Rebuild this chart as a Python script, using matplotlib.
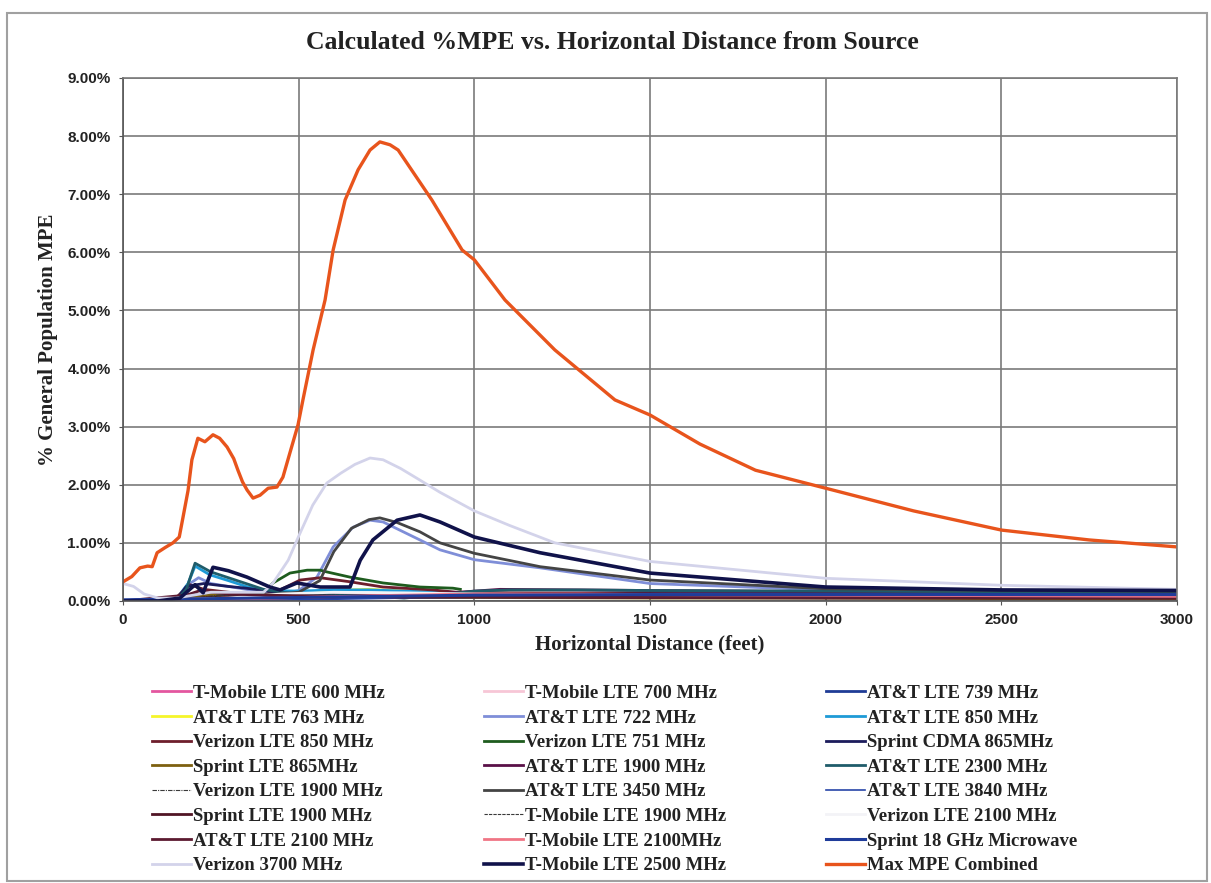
import matplotlib
matplotlib.use("Agg")
import matplotlib.pyplot as plt
from matplotlib.patches import Rectangle
from matplotlib.ticker import FuncFormatter, MultipleLocator

# ---------------------------------------------------------------------------
# Data (distance in feet, value in % of general population MPE)
# ---------------------------------------------------------------------------
tm600_x = [0, 200, 250, 300, 400, 500, 600, 800, 1000, 1500, 2000, 2500, 3000]
tm600_y = [0, 0.02, 0.05, 0.07, 0.08, 0.10, 0.11, 0.10, 0.09, 0.08, 0.07, 0.06, 0.06]

tm700_x = [0, 200, 250, 300, 400, 500, 600, 800, 1000, 1500, 2000, 2500, 3000]
tm700_y = [0, 0.03, 0.06, 0.08, 0.09, 0.11, 0.12, 0.11, 0.10, 0.09, 0.08, 0.07, 0.06]

att739_x = [0, 200, 400, 600, 800, 1000, 1500, 2000, 2500, 3000]
att739_y = [0.01, 0.02, 0.04, 0.07, 0.09, 0.10, 0.11, 0.11, 0.10, 0.10]

att763_x = [0, 200, 300, 400, 500, 600, 700, 800, 900, 1000, 1500, 2000, 3000]
att763_y = [0, 0.03, 0.08, 0.10, 0.14, 0.18, 0.20, 0.17, 0.13, 0.10, 0.07, 0.06, 0.05]

att722_x = [0, 150, 190, 215, 250, 300, 400, 450, 500, 552, 598, 655, 703, 740,
            845, 902, 1000, 1187, 1500, 2000, 2500, 3000]
att722_y = [0, 0.02, 0.30, 0.40, 0.30, 0.25, 0.15, 0.12, 0.18, 0.41, 0.93, 1.27, 1.39, 1.36,
            1.05, 0.88, 0.71, 0.57, 0.30, 0.19, 0.16, 0.15]

att850_x = [0, 150, 185, 205, 247, 300, 350, 400, 500, 600, 700, 800, 900, 1000,
            1500, 2000, 2500, 3000]
att850_y = [0, 0.02, 0.30, 0.60, 0.45, 0.35, 0.25, 0.18, 0.17, 0.19, 0.19, 0.17, 0.15, 0.13,
            0.10, 0.09, 0.08, 0.07]

vz850_x = [0, 150, 190, 230, 300, 400, 450, 504, 561, 646, 740, 882, 950, 1100,
           1500, 2000, 2500, 3000]
vz850_y = [0, 0.05, 0.28, 0.20, 0.15, 0.10, 0.20, 0.36, 0.40, 0.33, 0.24, 0.19, 0.15, 0.14,
           0.13, 0.12, 0.11, 0.10]

vz751_x = [0, 200, 300, 400, 427, 475, 524, 561, 580, 646, 740, 845, 939, 960]
vz751_y = [0, 0.03, 0.08, 0.15, 0.31, 0.48, 0.53, 0.53, 0.50, 0.41, 0.31, 0.24, 0.22, 0.20]

sprcdma_x = [0, 150, 180, 230, 300, 350, 400, 450, 500, 600, 800, 1000, 1500, 2000, 2500, 3000]
sprcdma_y = [0, 0, 0.25, 0.30, 0.25, 0.22, 0.18, 0.14, 0.12, 0.10, 0.09, 0.10, 0.12, 0.13, 0.13, 0.13]

sprlte865_x = [0, 150, 200, 250, 300, 400, 500, 600, 800, 1000, 1500, 2000, 2500, 3000]
sprlte865_y = [0, 0, 0.08, 0.10, 0.09, 0.08, 0.08, 0.07, 0.06, 0.06, 0.05, 0.05, 0.04, 0.04]

att1900_x = [0, 300, 600, 800, 930, 1073, 1300, 1500, 2000, 2500, 3000]
att1900_y = [0, 0.03, 0.06, 0.08, 0.14, 0.20, 0.19, 0.18, 0.16, 0.15, 0.14]

att2300_x = [0, 150, 180, 205, 250, 300, 350, 400, 450, 500, 600, 700, 800, 900,
             1000, 1100, 1300, 1500, 2000, 2500, 3000]
att2300_y = [0, 0, 0.20, 0.65, 0.50, 0.40, 0.30, 0.20, 0.15, 0.12, 0.10, 0.08, 0.05, 0.10,
             0.17, 0.19, 0.19, 0.18, 0.17, 0.16, 0.15]

vz1900_x = [0, 200, 300, 400, 500, 700, 1000, 1500, 2000, 3000]
vz1900_y = [0, 0.05, 0.12, 0.10, 0.08, 0.07, 0.06, 0.05, 0.05, 0.04]

att3450_x = [0, 150, 200, 250, 300, 400, 500, 560, 600, 650, 700, 731, 780, 845,
             902, 1000, 1187, 1500, 2000, 2500, 3000]
att3450_y = [0, 0.02, 0.10, 0.15, 0.12, 0.10, 0.15, 0.35, 0.85, 1.25, 1.40, 1.43, 1.35, 1.19,
             1.00, 0.82, 0.59, 0.36, 0.21, 0.18, 0.17]

att3840_x = [0, 400, 600, 800, 1000, 1500, 2000, 2500, 3000]
att3840_y = [0, 0.01, 0.03, 0.05, 0.06, 0.07, 0.07, 0.07, 0.07]

spr1900_x = [0, 200, 300, 400, 600, 800, 1000, 1500, 2000, 3000]
spr1900_y = [0, 0.04, 0.08, 0.09, 0.08, 0.07, 0.07, 0.06, 0.05, 0.05]

tm1900_x = [0, 200, 300, 400, 600, 800, 1000, 1500, 2000, 3000]
tm1900_y = [0, 0.04, 0.10, 0.12, 0.10, 0.08, 0.07, 0.06, 0.05, 0.05]

vz2100_x = [0, 300, 450, 600, 800, 1000, 1500, 2000, 3000]
vz2100_y = [0, 0.05, 0.12, 0.15, 0.14, 0.12, 0.10, 0.08, 0.06]

att2100_x = [0, 180, 220, 300, 400, 600, 800, 1000, 1500, 2000, 3000]
att2100_y = [0, 0.10, 0.18, 0.12, 0.10, 0.08, 0.07, 0.07, 0.06, 0.06, 0.05]

tm2100_x = [0, 300, 500, 700, 900, 1000, 1300, 1500, 2000, 2500, 3000]
tm2100_y = [0, 0.03, 0.06, 0.09, 0.11, 0.12, 0.12, 0.11, 0.10, 0.09, 0.08]

spr18g_x = [0, 500, 1000, 1500, 2000, 2500, 3000]
spr18g_y = [0.02, 0.06, 0.10, 0.11, 0.11, 0.11, 0.11]

vz3700_x = [0, 30, 60, 100, 150, 200, 250, 300, 350, 400, 427, 470, 504, 540, 580,
            620, 660, 703, 740, 790, 845, 902, 1000, 1100, 1229, 1500, 2000, 2500, 3000]
vz3700_y = [0.30, 0.25, 0.12, 0.05, 0.05, 0.10, 0.15, 0.15, 0.15, 0.15, 0.31, 0.70, 1.17, 1.65, 2.03,
            2.20, 2.35, 2.46, 2.43, 2.28, 2.08, 1.87, 1.55, 1.30, 1.00, 0.68, 0.39, 0.27, 0.20]

tm2500_x = [0, 100, 162, 190, 205, 228, 256, 300, 353, 418, 447, 495, 561, 646, 675,
            711, 780, 845, 902, 1000, 1187, 1500, 2000, 2500, 3000]
tm2500_y = [0, 0, 0.05, 0.20, 0.28, 0.14, 0.58, 0.52, 0.41, 0.24, 0.19, 0.31, 0.24, 0.24, 0.70,
            1.05, 1.39, 1.48, 1.36, 1.10, 0.83, 0.48, 0.24, 0.19, 0.18]

maxmpe_x = [0, 25, 48, 70, 83, 97, 120, 142, 160, 171, 185, 196, 213, 233, 256, 275, 296,
            315, 327, 340, 353, 370, 390, 413, 438, 455, 475, 498, 512, 541, 575, 598,
            632, 669, 703, 731, 760, 783, 831, 879, 965, 1000, 1087, 1229, 1400, 1500,
            1642, 1800, 2000, 2250, 2500, 2750, 3000]
maxmpe_y = [0.33, 0.42, 0.57, 0.60, 0.59, 0.83, 0.92, 1.00, 1.10, 1.45, 1.90, 2.43, 2.80, 2.74,
            2.86, 2.80, 2.65, 2.45, 2.25, 2.05, 1.91, 1.77, 1.82, 1.94, 1.96, 2.13, 2.55, 3.03,
            3.46, 4.32, 5.18, 6.04, 6.90, 7.42, 7.76, 7.90, 7.85, 7.76, 7.33, 6.90, 6.04, 5.87,
            5.18, 4.32, 3.46, 3.20, 2.70, 2.25, 1.94, 1.55, 1.22, 1.05, 0.93]

# (label, x, y, color, linewidth, linestyle) in Excel series order
series = [
    ("T-Mobile LTE 600 MHz", tm600_x, tm600_y, "#E3569F", 2.0, "-"),
    ("T-Mobile LTE 700 MHz", tm700_x, tm700_y, "#F7C6D6", 2.0, "-"),
    ("AT&T LTE 739 MHz", att739_x, att739_y, "#1F3C96", 2.0, "-"),
    ("AT&T LTE 763 MHz", att763_x, att763_y, "#F5F52A", 2.0, "-"),
    ("AT&T LTE 722 MHz", att722_x, att722_y, "#7F8ED8", 2.0, "-"),
    ("AT&T LTE 850 MHz", att850_x, att850_y, "#1E9AD6", 2.0, "-"),
    ("Verizon LTE 850 MHz", vz850_x, vz850_y, "#6E1E2C", 2.0, "-"),
    ("Verizon LTE 751 MHz", vz751_x, vz751_y, "#1E5C1E", 2.0, "-"),
    ("Sprint CDMA 865MHz", sprcdma_x, sprcdma_y, "#1C1C5C", 2.0, "-"),
    ("Sprint LTE 865MHz", sprlte865_x, sprlte865_y, "#7D6010", 2.0, "-"),
    ("AT&T LTE 1900 MHz", att1900_x, att1900_y, "#5A1048", 2.0, "-"),
    ("AT&T LTE 2300 MHz", att2300_x, att2300_y, "#1F5C6A", 2.0, "-"),
    ("Verizon LTE 1900 MHz", vz1900_x, vz1900_y, "#3A3A3A", 0.8, (0, (4, 1, 1, 1))),
    ("AT&T LTE 3450 MHz", att3450_x, att3450_y, "#444444", 2.0, "-"),
    ("AT&T LTE 3840 MHz", att3840_x, att3840_y, "#2846A8", 1.2, "-"),
    ("Sprint LTE 1900 MHz", spr1900_x, spr1900_y, "#501525", 2.0, "-"),
    ("T-Mobile LTE 1900 MHz", tm1900_x, tm1900_y, "#3A3A3A", 0.8, (0, (3, 1))),
    ("Verizon LTE 2100 MHz", vz2100_x, vz2100_y, "#F3F3F7", 2.0, "-"),
    ("AT&T LTE 2100 MHz", att2100_x, att2100_y, "#5C1A30", 2.0, "-"),
    ("T-Mobile LTE 2100MHz", tm2100_x, tm2100_y, "#F07585", 2.0, "-"),
    ("Sprint 18 GHz Microwave", spr18g_x, spr18g_y, "#1F3C9A", 2.2, "-"),
    ("Verizon 3700 MHz", vz3700_x, vz3700_y, "#D3D3EA", 2.0, "-"),
    ("T-Mobile LTE 2500 MHz", tm2500_x, tm2500_y, "#10124A", 2.6, "-"),
    ("Max MPE Combined", maxmpe_x, maxmpe_y, "#E8541C", 2.4, "-"),
]

SERIF = "Liberation Serif"
SANS = "Liberation Sans"
GRID = "#7A7A7A"

fig = plt.figure(figsize=(12.11, 8.83), dpi=100)
ax = fig.add_axes([0.1016, 0.3194, 0.8704, 0.5923])

handles = []
for label, xs, ys, color, lw, ls in series:
    (ln,) = ax.plot(xs, ys, color=color, linewidth=lw, linestyle=ls, label=label,
                    solid_joinstyle="round")
    handles.append(ln)

ax.set_xlim(0, 3000)
ax.set_ylim(0, 9)
ax.xaxis.set_major_locator(MultipleLocator(500))
ax.yaxis.set_major_locator(MultipleLocator(1))
ax.yaxis.set_major_formatter(FuncFormatter(lambda v, p: f"{v:.2f}%"))
ax.grid(True, color=GRID, linewidth=1.2)
ax.set_axisbelow(True)
for sp in ax.spines.values():
    sp.set_color(GRID)
    sp.set_linewidth(1.2)
ax.spines["left"].set_color("#555555")
ax.spines["bottom"].set_color("#555555")
ax.tick_params(axis="both", length=3, color="#555555", pad=6)
for lbl in ax.get_xticklabels() + ax.get_yticklabels():
    lbl.set_fontfamily(SANS)
    lbl.set_fontweight("bold")
    lbl.set_fontsize(11)
    lbl.set_color("#222222")

ax.set_xlabel("Horizontal Distance (feet)", fontfamily=SERIF, fontweight="bold",
              fontsize=15, labelpad=5, color="#222222")
ax.set_ylabel("% General Population MPE", fontfamily=SERIF, fontweight="bold",
              fontsize=15, labelpad=7, color="#222222")
fig.text(0.506, 0.952, "Calculated %MPE vs. Horizontal Distance from Source",
         ha="center", va="center", fontfamily=SERIF, fontweight="bold",
         fontsize=18.5, color="#222222")

# legend: Excel fills rows, matplotlib fills columns -> reorder
order = [handles[i::3] for i in range(3)]
leg_handles = order[0] + order[1] + order[2]
leg = fig.legend(handles=leg_handles, labels=[h.get_label() for h in leg_handles],
                 loc="upper left", bbox_to_anchor=(0.119, 0.233), ncol=3,
                 frameon=False, prop={"family": SERIF, "weight": "bold", "size": 13.5},
                 handlelength=2.1, handletextpad=0.1, columnspacing=5.3,
                 labelspacing=0.4, borderaxespad=0)
for t in leg.get_texts():
    t.set_color("#222222")

# outer chart border
fig.add_artist(Rectangle((0.006, 0.002), 0.991, 0.983, transform=fig.transFigure,
                         fill=False, edgecolor="#A0A0A0", linewidth=1.5))

fig.savefig("out.png", dpi=100)
